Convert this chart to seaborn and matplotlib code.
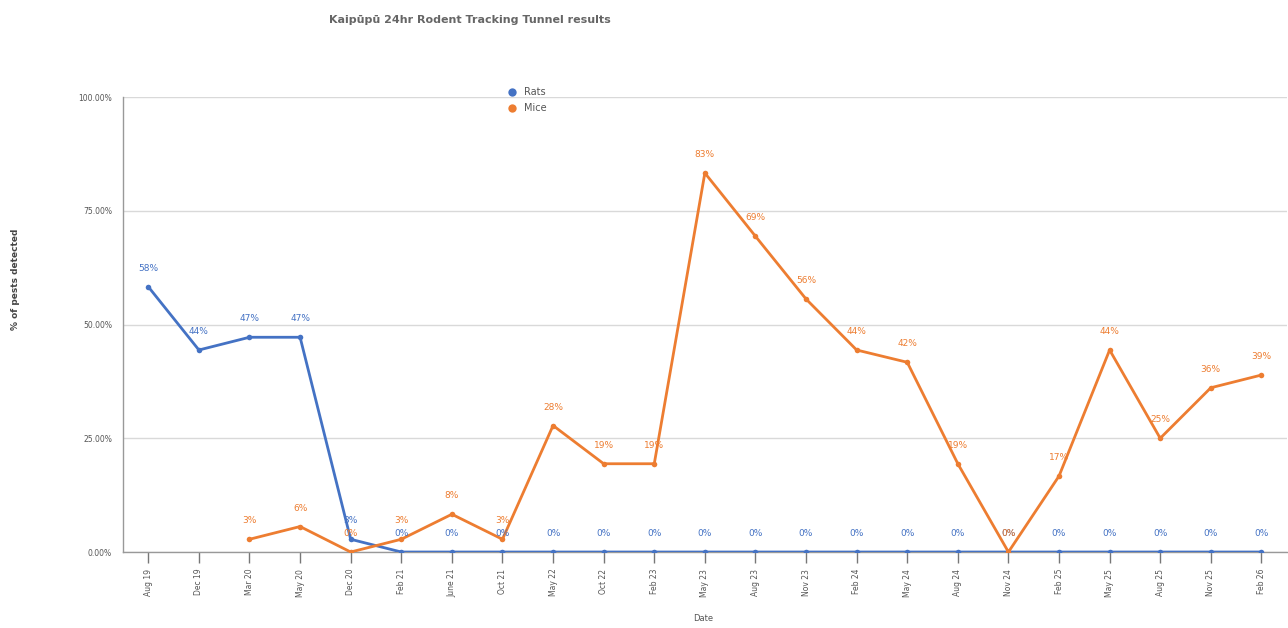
import numpy as np
import pandas as pd
import matplotlib
matplotlib.use("Agg")
import matplotlib.pyplot as plt
import seaborn as sns
from matplotlib.lines import Line2D

dates = ["Aug 19", "Dec 19", "Mar 20", "May 20", "Dec 20", "Feb 21", "June 21", "Oct 21",
         "May 22", "Oct 22", "Feb 23", "May 23", "Aug 23", "Nov 23", "Feb 24", "May 24",
         "Aug 24", "Nov 24", "Feb 25", "May 25", "Aug 25", "Nov 25", "Feb 26"]
rats = [58.3, 44.4, 47.2, 47.2, 2.8, 0, 0, 0, 0, 0, 0, 0, 0, 0, 0, 0, 0, 0, 0, 0, 0, 0, 0]
mice = [np.nan, np.nan, 2.8, 5.6, 0, 2.8, 8.3, 2.8, 27.8, 19.4, 19.4, 83.3, 69.4, 55.6,
        44.4, 41.7, 19.4, 0, 16.7, 44.4, 25.0, 36.1, 38.9]
series_names = ["Rats", "Mice"]
colors = {"Rats": "#4472C4", "Mice": "#ED7D31"}

df = pd.DataFrame({
    "Date": dates * 2,
    "value": rats + mice,
    "Series": ["Rats"] * len(dates) + ["Mice"] * len(dates),
})

sns.set_theme(style="white")
plt.rcParams["font.family"] = ["DejaVu Sans"]

fig = plt.figure(figsize=(12.88, 6.28), dpi=100)
ax = fig.add_axes([0.0955, 0.121, 0.9035, 0.7245])

sns.lineplot(data=df.dropna(), x="Date", y="value", hue="Series", palette=colors,
             marker="o", markersize=4, markeredgewidth=0, linewidth=2,
             sort=False, legend=False, ax=ax, zorder=3)

pos = {d: i for i, d in enumerate(dates)}
for name, vals in (("Rats", rats), ("Mice", mice)):
    for d, v in zip(dates, vals):
        if np.isnan(v):
            continue
        ax.annotate(f"{v:.0f}%", (pos[d], v), xytext=(0, 10), textcoords="offset points",
                    ha="center", va="bottom", fontsize=6.5, color=colors[name], zorder=4)

ax.set_xlim(-0.5, len(dates) - 0.5)
ax.set_ylim(0, 100)
ax.set_yticks([0, 25, 50, 75, 100])
ax.set_yticklabels([f"{t:.2f}%" for t in [0, 25, 50, 75, 100]], fontsize=5.5, color="#555555")
ax.set_xticks(range(len(dates)))
ax.set_xticklabels(dates, rotation=90, fontsize=5.5, color="#555555")
ax.tick_params(axis="x", bottom=True, length=8, width=1, color="#777777", pad=4)
ax.tick_params(axis="y", left=False, pad=2)
ax.grid(axis="y", color="#d9d9d9", linewidth=1)
ax.set_axisbelow(True)
for s in ["top", "right"]:
    ax.spines[s].set_visible(False)
ax.spines["left"].set_color("#999999")
ax.spines["bottom"].set_color("#999999")
ax.spines["left"].set_linewidth(1)
ax.spines["bottom"].set_linewidth(1)

ax.set_xlabel("")
ax.set_ylabel("")
fig.text(0.546, 0.008, "Date", fontsize=6, color="#555555", ha="center", va="bottom")
fig.text(0.012, 0.555, "% of pests detected", fontsize=6.5, fontweight="bold",
         color="#444444", rotation=90, ha="center", va="center")
fig.text(0.365, 0.968, "Kaipūpū 24hr Rodent Tracking Tunnel results", fontsize=8,
         fontweight="bold", color="#666666", ha="center", va="center")

handles = [Line2D([0], [0], marker="o", linestyle="none", markersize=6,
                  markerfacecolor=colors[n], markeredgewidth=0) for n in series_names]
fig.legend(handles, series_names, loc="upper left", bbox_to_anchor=(0.383, 0.875),
           frameon=False, fontsize=7, handletextpad=0.3, labelspacing=0.6,
           labelcolor="#555555")

fig.savefig("out.png", dpi=100)
